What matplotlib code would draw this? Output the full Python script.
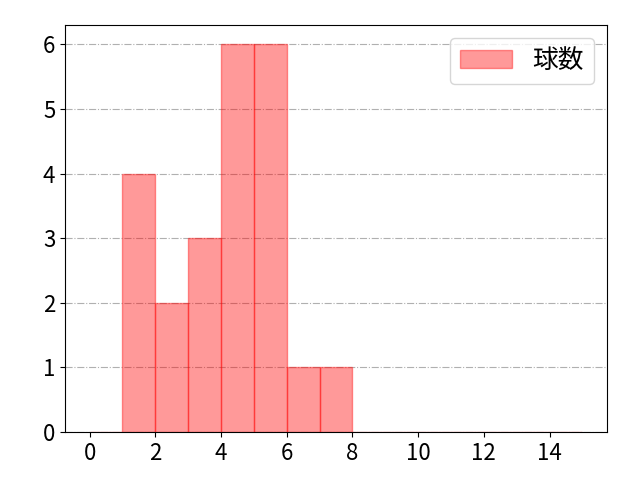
import matplotlib
matplotlib.use("Agg")
import matplotlib.pyplot as plt
import numpy as np

plt.rcParams['font.family'] = ['Noto Sans CJK JP', 'DejaVu Sans']

bin_edges = list(range(0, 16))
counts = [0, 4, 2, 3, 6, 6, 1, 1, 0, 0, 0, 0, 0, 0, 0]
label = "球数"

fig, ax = plt.subplots(figsize=(6.4, 4.8), dpi=100)
ax.hist(bin_edges[:-1], bins=bin_edges, weights=counts, color='red', alpha=0.4,
        edgecolor='red', linewidth=1, label=label)
ax.grid(axis='y', linestyle='-.', color='#b0b0b0', linewidth=0.8)
ax.set_axisbelow(True)
ax.set_xticks(range(0, 15, 2))
ax.set_yticks(range(0, 7))
ax.tick_params(labelsize=16)
ax.legend(fontsize=18.5, loc='upper right')
fig.subplots_adjust(left=65/640, right=607/640, top=1-25/480, bottom=1-432/480)
fig.savefig("out.png")
